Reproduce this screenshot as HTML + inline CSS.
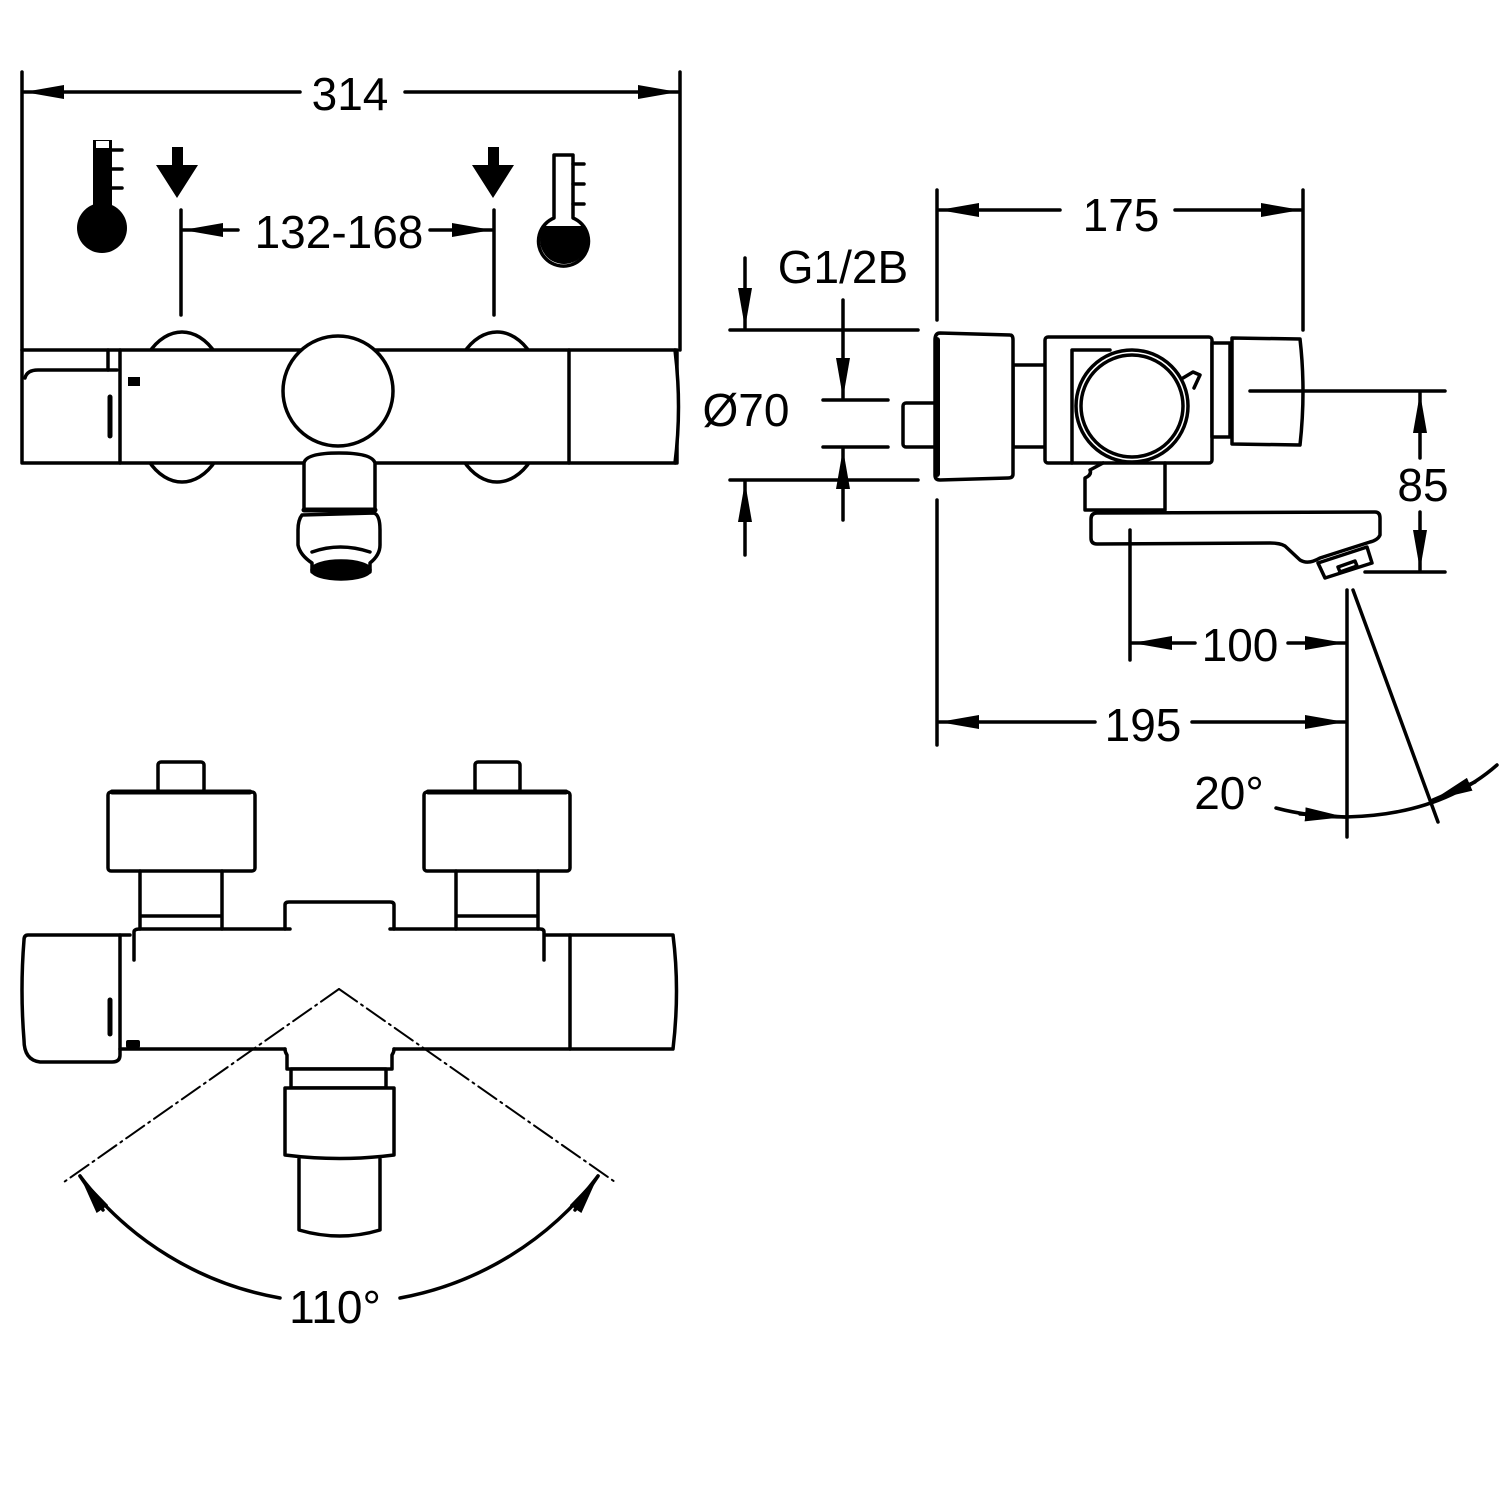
<!DOCTYPE html>
<html><head><meta charset="utf-8"><style>
html,body{margin:0;padding:0;background:#fff;}
svg{display:block;}
text{font-family:"Liberation Sans",Arial,sans-serif;fill:#000;}
</style></head><body>
<svg width="1500" height="1500" viewBox="0 0 1500 1500" xmlns="http://www.w3.org/2000/svg">
<defs>
<marker id="a" viewBox="0 0 40 14" refX="40" refY="7" markerWidth="40" markerHeight="14" markerUnits="userSpaceOnUse" orient="auto"><path d="M0,0 L40,7 L0,14 Z" fill="#000"/></marker>
<clipPath id="liq"><rect x="530" y="226" width="70" height="60"/></clipPath>
</defs>
<g stroke="#000" stroke-width="3.5" fill="none" stroke-linecap="round" stroke-linejoin="round">
<!-- ===== TOP VIEW ===== -->
<line x1="22" y1="72" x2="22" y2="350"/>
<line x1="680" y1="72" x2="680" y2="350"/>
<line x1="300" y1="92" x2="24" y2="92" marker-end="url(#a)"/>
<line x1="405" y1="92" x2="678" y2="92" marker-end="url(#a)"/>
<!-- thermometers -->
<rect x="93" y="140" width="19" height="75" fill="#000" stroke="none"/>
<rect x="96" y="141" width="13" height="7" fill="#fff" stroke="none"/>
<circle cx="102" cy="228" r="25" fill="#000" stroke="none"/>
<line x1="112" y1="150" x2="122" y2="150"/><line x1="112" y1="169" x2="122" y2="169"/><line x1="112" y1="188" x2="122" y2="188"/>
<path d="M554,155 L573,155 L573,218 A25,25 0 1 1 554,218 Z" fill="#fff"/>
<circle cx="564" cy="240" r="24" fill="#000" stroke="none" clip-path="url(#liq)"/>
<line x1="573" y1="164" x2="584" y2="164"/><line x1="573" y1="184" x2="584" y2="184"/><line x1="573" y1="204" x2="584" y2="204"/>
<!-- arrows down -->
<path d="M172,147 h11 v18 h15 l-21,33 l-21,-33 h16 Z" fill="#000" stroke="none"/>
<path d="M488,147 h11 v18 h15 l-21,33 l-21,-33 h16 Z" fill="#000" stroke="none"/>
<line x1="181" y1="210" x2="181" y2="315"/>
<line x1="494" y1="210" x2="494" y2="315"/>
<line x1="238" y1="230" x2="183" y2="230" marker-end="url(#a)"/>
<line x1="430" y1="230" x2="492" y2="230" marker-end="url(#a)"/>
<!-- back discs -->
<ellipse cx="182" cy="407" rx="48" ry="75"/>
<ellipse cx="497" cy="407" rx="48" ry="75"/>
<rect x="22" y="350" width="655" height="113" fill="#fff"/>
<path d="M675,350 Q682,407 675,463" fill="#fff"/>
<line x1="108" y1="350" x2="108" y2="370"/>
<line x1="120" y1="350" x2="120" y2="463"/>
<line x1="569" y1="350" x2="569" y2="463"/>
<path d="M25,378 Q27,370 38,370 L117,370"/>
<line x1="110" y1="397" x2="110" y2="436" stroke-width="5"/>
<rect x="128" y="377" width="12" height="9" fill="#000" stroke="none"/>
<circle cx="338" cy="391" r="55" fill="#fff"/>
<path d="M304,510 L304,463 Q306,453 339,453 Q372,453 375,463 L375,510 Z" fill="#fff"/>
<line x1="304" y1="510" x2="375" y2="510" stroke-width="5"/>
<path d="M302,515 Q298,520 298,530 L298,545 Q300,555 312,563 L312,572 Q340,580 370,572 L370,563 Q380,555 380,545 L380,530 Q380,515 374,513 Z" fill="#fff"/>
<path d="M312,552 Q340,542 370,552"/>
<ellipse cx="341" cy="570" rx="29" ry="9" fill="#000"/>
<!-- ===== SIDE VIEW ===== -->
<line x1="937" y1="190" x2="937" y2="320"/>
<line x1="1303" y1="190" x2="1303" y2="330"/>
<line x1="1060" y1="210" x2="939" y2="210" marker-end="url(#a)"/>
<line x1="1175" y1="210" x2="1301" y2="210" marker-end="url(#a)"/>
<line x1="730" y1="330" x2="918" y2="330"/>
<line x1="730" y1="480" x2="918" y2="480"/>
<line x1="745" y1="258" x2="745" y2="328" marker-end="url(#a)"/>
<line x1="745" y1="555" x2="745" y2="482" marker-end="url(#a)"/>
<line x1="823" y1="400" x2="888" y2="400"/>
<line x1="823" y1="447" x2="888" y2="447"/>
<line x1="843" y1="300" x2="843" y2="398" marker-end="url(#a)"/>
<line x1="843" y1="520" x2="843" y2="449" marker-end="url(#a)"/>
<!-- body -->
<rect x="903" y="403" width="34" height="44" rx="3" fill="#fff"/>
<rect x="1013" y="365" width="45" height="82" fill="#fff"/>
<line x1="1058" y1="368" x2="1058" y2="445"/>
<path d="M940,333 L1010,335 Q1013,335 1013,340 L1013,474 Q1013,478 1008,478 L940,480 Q935,480 935,475 L935,340 Q935,333 940,333Z" fill="#fff"/>
<line x1="937" y1="340" x2="937" y2="474" stroke-width="6"/>
<rect x="1045" y="337" width="167" height="126" rx="3" fill="#fff"/>
<path d="M1072,463 L1072,350 L1110,350"/>
<path d="M1165,463 L1165,510 L1085,510 L1085,478 Q1092,475 1090,470 L1103,463"/>
<rect x="1212" y="343" width="18" height="94" fill="#fff"/>
<path d="M1232,338 L1300,339 Q1306,391 1300,445 L1232,444 Z" fill="#fff"/>
<line x1="1250" y1="391" x2="1445" y2="391"/>
<circle cx="1132" cy="406" r="56" fill="#fff"/>
<circle cx="1132" cy="406" r="51"/>
<path d="M1183,378 L1193,372 L1200,375 L1194,388"/>
<path d="M1097,513 L1375,512 Q1380,512 1380,518 L1380,535 Q1378,540 1370,542 L1320,558 Q1308,565 1300,560 L1285,546 Q1280,543 1270,543 L1097,544 Q1091,544 1091,538 L1091,519 Q1091,513 1097,513Z" fill="#fff"/>
<path d="M1318,563 L1367,547 L1372,563 L1325,578 Z" fill="#fff"/>
<path d="M1338,567 L1355,561 L1357,566 L1340,572 Z"/>
<line x1="1130" y1="530" x2="1130" y2="660"/>
<line x1="1365" y1="572" x2="1445" y2="572"/>
<line x1="1420" y1="458" x2="1420" y2="393" marker-end="url(#a)"/>
<line x1="1420" y1="512" x2="1420" y2="570" marker-end="url(#a)"/>
<line x1="937" y1="500" x2="937" y2="745"/>
<line x1="1347" y1="590" x2="1347" y2="837"/>
<line x1="1353" y1="590" x2="1438" y2="822"/>
<line x1="1195" y1="643" x2="1132" y2="643" marker-end="url(#a)"/>
<line x1="1288" y1="643" x2="1345" y2="643" marker-end="url(#a)"/>
<line x1="1095" y1="722" x2="939" y2="722" marker-end="url(#a)"/>
<line x1="1192" y1="722" x2="1345" y2="722" marker-end="url(#a)"/>
<path d="M1276,808 Q1310,817 1346,817"/>
<line x1="1300" y1="814" x2="1345" y2="817" marker-end="url(#a)"/>
<path d="M1346,817 Q1440,815 1497,765"/>
<line x1="1475" y1="782" x2="1433" y2="800" marker-end="url(#a)"/>
<!-- ===== BOTTOM VIEW ===== -->
<rect x="158" y="762" width="46" height="30" rx="3" fill="#fff"/>
<rect x="475" y="762" width="45" height="30" rx="3" fill="#fff"/>
<rect x="108" y="792" width="147" height="79" rx="3" fill="#fff"/>
<rect x="424" y="792" width="146" height="79" rx="3" fill="#fff"/>
<line x1="112" y1="792" x2="250" y2="792" stroke-width="5"/>
<line x1="428" y1="792" x2="566" y2="792" stroke-width="5"/>
<path d="M140,871 L140,929 M222,871 L222,929 M140,916 L222,916"/>
<path d="M456,871 L456,929 M538,871 L538,929 M456,916 L538,916"/>
<path d="M285,929 L285,905 Q285,902 289,902 L390,902 Q394,902 394,905 L394,929"/>
<path d="M28,935 L120,935 L120,1055 Q120,1062 112,1062 L40,1062 Q24,1060 24,1040 Q20,990 24,940 Q24,935 28,935Z" fill="#fff"/>
<path d="M120,935 L130,935 M134,960 L134,932 Q134,929 140,929 L290,929 M390,929 L540,929 Q544,929 544,932 L544,960 M544,935 L673,935 Q680,990 673,1049 L394,1049 M285,1049 L120,1049"/>
<line x1="570" y1="935" x2="570" y2="1049"/>
<line x1="110" y1="1000" x2="110" y2="1034" stroke-width="5"/>
<rect x="126" y="1040" width="14" height="8" rx="2" fill="#000" stroke="none"/>
<path d="M285,1049 Q285,1052 287,1055 L287,1069 L392,1069 L392,1055 Q394,1052 394,1049" fill="#fff"/>
<rect x="291" y="1069" width="95" height="19" fill="#fff"/>
<path d="M285,1088 L394,1088 L394,1155 Q340,1162 285,1155 Z" fill="#fff"/>
<path d="M299,1159 L299,1230 Q340,1242 380,1230 L380,1159"/>
<g stroke-width="2" stroke-dasharray="22,5,2,5">
<line x1="339" y1="989" x2="64" y2="1182"/>
<line x1="339" y1="989" x2="615" y2="1182"/>
</g>
<path d="M80,1176 A321,321 0 0 0 280,1298"/>
<path d="M400,1298 A321,321 0 0 0 598,1176"/>
<line x1="103" y1="1210" x2="80" y2="1176" marker-end="url(#a)"/>
<line x1="575" y1="1210" x2="598" y2="1176" marker-end="url(#a)"/>
</g>
<g font-size="46">
<text x="350" y="110" text-anchor="middle">314</text>
<text x="339" y="248" text-anchor="middle">132-168</text>
<text x="1121" y="231" text-anchor="middle">175</text>
<text x="843" y="283" text-anchor="middle">G1/2B</text>
<text x="746" y="426" text-anchor="middle">Ø70</text>
<text x="1423" y="501" text-anchor="middle">85</text>
<text x="1240" y="661" text-anchor="middle">100</text>
<text x="1143" y="741" text-anchor="middle">195</text>
<text x="1229" y="809" text-anchor="middle">20°</text>
<text x="335" y="1323" text-anchor="middle">110°</text>
</g>
</svg>
</body></html>
